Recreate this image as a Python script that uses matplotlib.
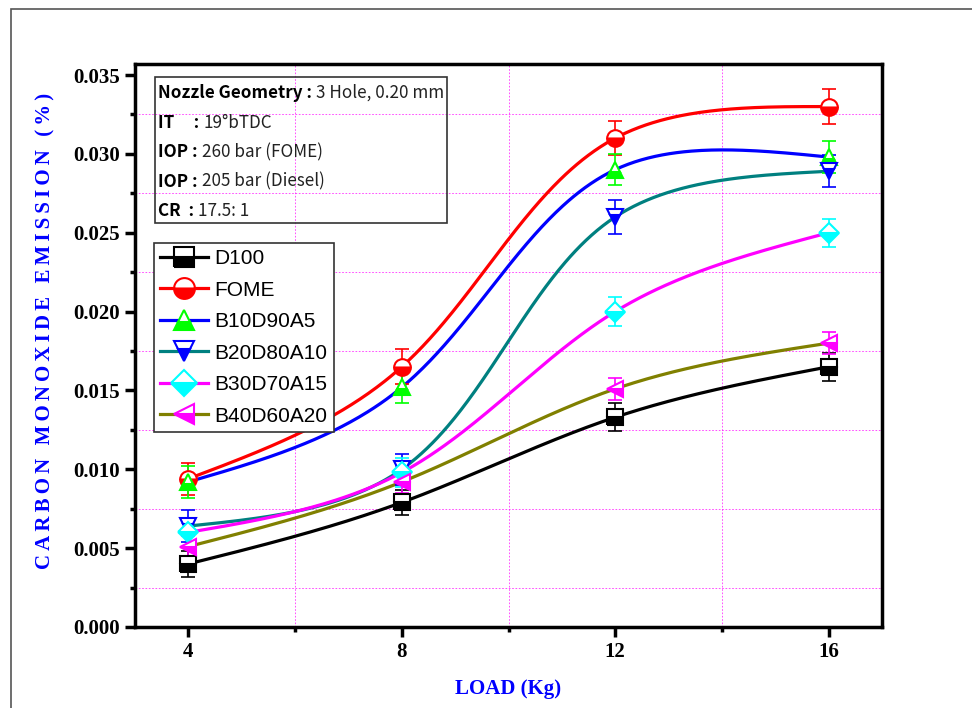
import numpy as np
import matplotlib
matplotlib.use("Agg")
import matplotlib.pyplot as plt
from matplotlib.lines import Line2D
from matplotlib.patches import Rectangle

load = [4, 8, 12, 16]
series = ["D100", "FOME", "B10D90A5", "B20D80A10", "B30D70A15", "B40D60A20"]
d100 = [0.0040, 0.0079, 0.0133, 0.0165]
fome = [0.0094, 0.0165, 0.0310, 0.0330]
b10 = [0.0092, 0.0152, 0.0290, 0.0298]
b20 = [0.0064, 0.0100, 0.0260, 0.0289]
b30 = [0.0060, 0.0098, 0.0200, 0.0250]
b40 = [0.0051, 0.0092, 0.0151, 0.0180]
err_d100 = [0.0008, 0.0008, 0.0009, 0.0009]
err_fome = [0.0010, 0.0011, 0.0011, 0.0011]
err_b10 = [0.0010, 0.0010, 0.0010, 0.0010]
err_b20 = [0.0010, 0.0010, 0.0011, 0.0010]
err_b30 = [0.0009, 0.0009, 0.0009, 0.0009]
err_b40 = [0.0007, 0.0007, 0.0007, 0.0007]

values = [d100, fome, b10, b20, b30, b40]
errors = [err_d100, err_fome, err_b10, err_b20, err_b30, err_b40]
line_colors = ["black", "red", "blue", "#008080", "magenta", "#808000"]
marker_colors = ["black", "red", "#00ff00", "blue", "cyan", "magenta"]
markers = ["s", "o", "^", "v", "D", "<"]
msizes = [11, 12, 12, 12, 10, 12]


def nat_spline_coef(t, y):
    m = len(t)
    h = np.diff(t)
    A = np.zeros((m, m))
    r = np.zeros(m)
    A[0, 0] = A[-1, -1] = 1
    for i in range(1, m - 1):
        A[i, i - 1] = h[i - 1]
        A[i, i] = 2 * (h[i - 1] + h[i])
        A[i, i + 1] = h[i]
        r[i] = 3 * ((y[i + 1] - y[i]) / h[i] - (y[i] - y[i - 1]) / h[i - 1])
    c = np.linalg.solve(A, r)
    b = (y[1:] - y[:-1]) / h - h * (2 * c[:-1] + c[1:]) / 3
    d = (c[1:] - c[:-1]) / (3 * h)
    return b, c, d


def smooth_line(x, y, n=300):
    # parametric cubic spline in screen units, like Origin's spline connect
    sx = 53.33
    sy = 15771.0
    px = np.asarray(x, float) * sx
    py = np.asarray(y, float) * sy
    t = np.concatenate([[0], np.cumsum(np.hypot(np.diff(px), np.diff(py)))])
    ts = np.linspace(0, t[-1], n)
    idx = np.clip(np.searchsorted(t, ts) - 1, 0, len(t) - 2)
    dt = ts - t[idx]
    out = []
    for p in (px, py):
        b, c, d = nat_spline_coef(t, p)
        out.append(p[idx] + b[idx] * dt + c[idx] * dt ** 2 + d[idx] * dt ** 3)
    return out[0] / sx, out[1] / sy


fig = plt.figure(figsize=(9.72, 7.08), dpi=100)
ax = fig.add_axes([135 / 972, 1 - 627 / 708, 747 / 972, 563 / 708])

# outer frame of the picture
fig.patches.append(Rectangle((11 / 972, -0.05), 1.1, 1 - 8.5 / 708 + 0.05,
                             transform=fig.transFigure, fill=False,
                             edgecolor="#555555", lw=1.2, zorder=-5))

handles = []
for name, y, e, lc, mc, mk, ms in zip(series, values, errors, line_colors,
                                       marker_colors, markers, msizes):
    xs, ys = smooth_line(load, y)
    ax.plot(xs, ys, color=lc, lw=2.3, zorder=2)
    ax.errorbar(load, y, yerr=e, fmt="none", ecolor=mc, elinewidth=1.2,
                capsize=5, capthick=1.2, zorder=3)
    ax.plot(load, y, ls="none", marker=mk, ms=ms, mec=mc, mew=1.5, mfc=mc,
            fillstyle="bottom", markerfacecoloralt="white", zorder=4)
    handles.append(Line2D([], [], color=lc, lw=2.3, marker=mk, ms=ms + 3,
                          mec=mc, mew=1.5, mfc=mc, fillstyle="bottom",
                          markerfacecoloralt="white", label=name))

ax.set_xlim(3, 17)
ax.set_ylim(0, 0.0357)
ax.set_xticks([4, 8, 12, 16])
ax.set_xticks([6, 10, 14], minor=True)
ax.set_yticks(np.arange(0, 0.0351, 0.005))
ax.set_yticks(np.arange(0.0025, 0.035, 0.005), minor=True)
ax.grid(which="minor", color="magenta", ls=(0, (2, 2)), lw=0.6, alpha=0.8)

for s in ax.spines.values():
    s.set_linewidth(2.5)
ax.tick_params(which="major", direction="out", length=7, width=2.5,
               top=False, right=False, pad=4)
ax.tick_params(which="minor", direction="out", length=3.5, width=2.5,
               top=False, right=False)

serif = "Liberation Serif"
ax.set_xticklabels(["4", "8", "12", "16"])
ax.set_yticklabels(["%.3f" % v for v in np.arange(0, 0.0351, 0.005)])
for lab in ax.get_xticklabels() + ax.get_yticklabels():
    lab.set_fontfamily(serif)
    lab.set_fontweight("bold")
    lab.set_fontsize(15)

ax.set_xlabel("LOAD (Kg)", fontfamily=serif, fontweight="bold", fontsize=15,
              color="blue", labelpad=12)
ylab = "\u2009".join("CARBON MONOXIDE EMISSION (%)")
ax.set_ylabel(ylab, family=[serif, "DejaVu Sans"], fontweight="bold",
              fontsize=15, color="blue")
ax.yaxis.set_label_coords(-0.107, 0.525)

leg = ax.legend(handles=handles, loc="upper left",
                bbox_to_anchor=(19 / 747, 1 - 179 / 563),
                prop={"family": "Liberation Sans", "size": 15},
                frameon=True, fancybox=False, edgecolor="#333333",
                framealpha=1, handlelength=2.3, handletextpad=0.3,
                labelspacing=0.6, borderpad=0.3, borderaxespad=0)
leg.get_frame().set_linewidth(1.2)

# info box
ax.add_patch(Rectangle((155 / 972, 1 - 223 / 708), 292 / 972, 146 / 708,
                       transform=fig.transFigure, fill=False,
                       edgecolor="#333333", lw=1.2, zorder=5))
cjk = ["Noto Sans CJK JP", "DejaVu Sans"]
info = [("Nozzle Geometry :", "3 Hole, 0.20 mm"),
        ("IT     :", "19\u00b0bTDC"),
        ("IOP :", "260 bar (FOME)"),
        ("IOP :", "205 bar (Diesel)"),
        ("CR  :", "17.5: 1")]
for i, (bold, normal) in enumerate(info):
    ypix = 98 + i * 29.6
    t = fig.text(158 / 972, 1 - ypix / 708, bold, family=cjk,
                 fontweight="bold", fontsize=12.3, va="baseline")
    ax.annotate(normal, xy=(1, 0), xycoords=t, xytext=(3, 0),
                textcoords="offset points", family=cjk, fontsize=12.3,
                va="bottom", color="#222222")

fig.savefig("out.png", dpi=100)
